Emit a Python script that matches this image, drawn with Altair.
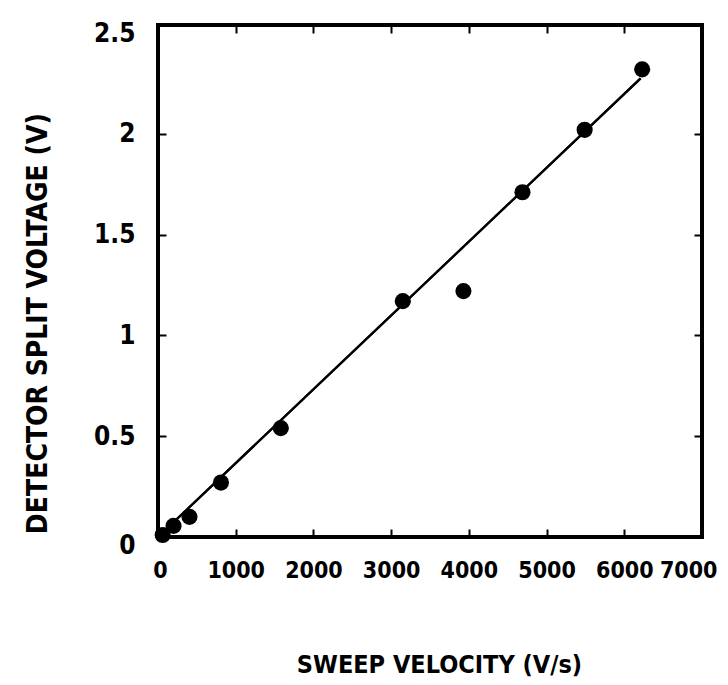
import altair as alt
import pandas as pd

# data
sweep_velocity = [60, 200, 405, 810, 1580, 3150, 3930, 4690, 5490, 6230]
split_voltage = [0.01, 0.055, 0.10, 0.27, 0.54, 1.17, 1.22, 1.71, 2.02, 2.32]

fit_velocity = [0, 6210]
fit_voltage = [0.0, 2.275]

x_label_values = [0, 1000, 2000, 3000, 4000, 5000, 6000, 7000]
x_tick_values = [1000, 2000, 3000, 4000, 5000, 6000]
y_label_values = [0, 0.5, 1, 1.5, 2, 2.5]
y_tick_values = [0.5, 1, 1.5, 2]

pts = pd.DataFrame({"v": sweep_velocity, "s": split_voltage})
fit = pd.DataFrame({"v": fit_velocity, "s": fit_voltage})

FONT = "DejaVu Sans Condensed, Liberation Sans Narrow, Roboto, sans-serif"
xs = alt.Scale(domain=[0, 7000], nice=False, zero=False)
ys = alt.Scale(domain=[0, 2.54], nice=False, zero=False)


def tick_axis(orient, values):
    return alt.Axis(orient=orient, offset=-8, tickSize=8, tickWidth=2,
                    tickColor="black", labels=False, domain=False, grid=False,
                    title=None, values=values)


x_label_axis = alt.Axis(orient="bottom", values=x_label_values, format="d",
                        ticks=False, tickSize=0, domain=False, grid=False,
                        labelOverlap=False, labelFlush=False,
                        labelAlign=alt.expr("datum.value == 7000 ? 'right' : 'center'"),
                        labelOffset=alt.expr("datum.value == 7000 ? 15 : (datum.value == 0 ? 2 : 0)"),
                        labelPadding=22, labelFont=FONT, labelFontSize=23,
                        labelFontWeight="bold", labelColor="black",
                        title="SWEEP VELOCITY (V/s)", titleFont=FONT,
                        titleFontSize=25, titleFontWeight="bold",
                        titleColor="black", titleX=281, titleY=127,
                        titleBaseline="middle", titleAlign="center")

y_label_axis = alt.Axis(orient="left", values=y_label_values, format="~g",
                        ticks=False, tickSize=0, domain=False, grid=False,
                        labelOverlap=False, labelFlush=False,
                        labelPadding=23, labelFont=FONT, labelFontSize=26,
                        labelFontWeight="bold", labelColor="black",
                        labelOffset=alt.expr("datum.value == 0 ? 8 : 0"),
                        title="DETECTOR SPLIT VOLTAGE (V)", titleFont=FONT,
                        titleFontSize=28, titleFontWeight="bold",
                        titleColor="black", titleX=-120, titleY=298,
                        titleAngle=270, titleBaseline="middle",
                        titleAlign="center")

line_bl = alt.Chart(fit).mark_line(color="black", strokeWidth=2.2).encode(
    x=alt.X("v:Q", scale=xs, axis=tick_axis("bottom", x_tick_values)),
    y=alt.Y("s:Q", scale=ys, axis=tick_axis("left", y_tick_values)),
)

line_tr = alt.Chart(fit).mark_line(color="black", strokeWidth=2.2).encode(
    x=alt.X("v:Q", scale=xs, axis=tick_axis("top", x_tick_values)),
    y=alt.Y("s:Q", scale=ys, axis=tick_axis("right", y_tick_values)),
)

points = alt.Chart(pts).mark_circle(size=260, color="black", opacity=1).encode(
    x=alt.X("v:Q", scale=xs, axis=x_label_axis),
    y=alt.Y("s:Q", scale=ys, axis=y_label_axis),
)

chart = alt.layer(line_bl, line_tr, points).resolve_axis(
    x="independent", y="independent"
).properties(
    width=544, height=512,
    autosize=alt.AutoSizeParams(type="none"),
    padding={"left": 150, "top": 17, "right": 16, "bottom": 144},
    background="white",
).configure_view(stroke="black", strokeWidth=4)

chart.save("out.html", embed_options={"renderer": "svg", "actions": False})
